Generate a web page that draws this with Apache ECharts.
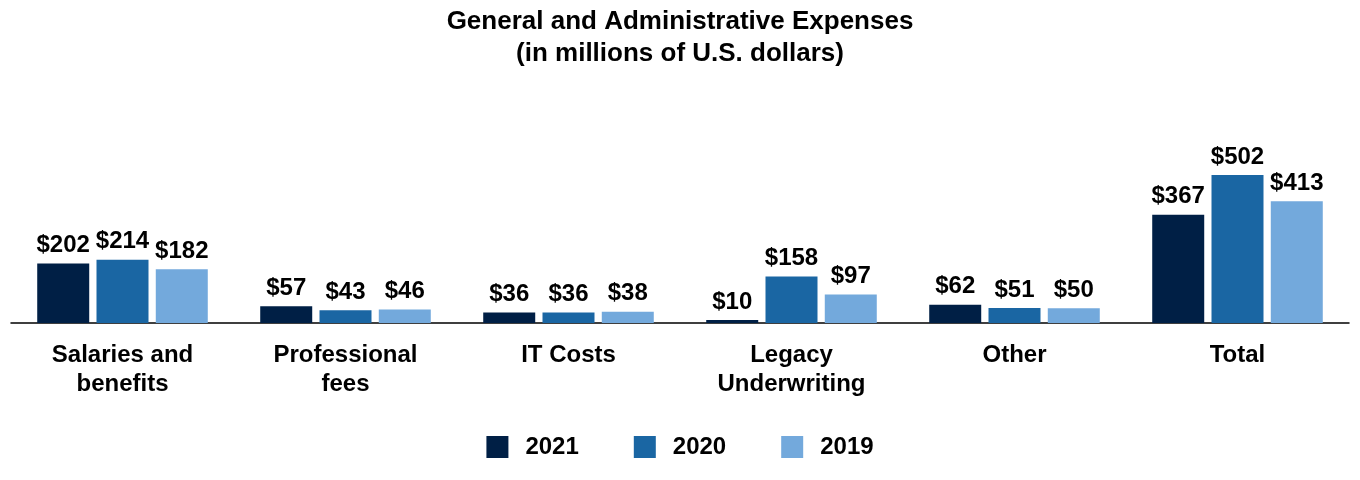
<!DOCTYPE html>
<html><head><meta charset="utf-8">
<script src="https://cdn.jsdelivr.net/npm/echarts@6/dist/echarts.min.js"></script>
<style>html,body{margin:0;padding:0;background:#fff}#c{width:1360px;height:480px}</style>
</head><body><div id="c"></div>
<script>
var categories = ['Salaries and\nbenefits', 'Professional\nfees', 'IT Costs', 'Legacy\nUnderwriting', 'Other', 'Total'];
var years = ['2021', '2020', '2019'];
var v2021 = [202, 57, 36, 10, 62, 367];
var v2020 = [214, 43, 36, 158, 51, 502];
var v2019 = [182, 46, 38, 97, 50, 413];
var colors = ['#001f45', '#1a66a3', '#73a9dc'];
var FONT = '"Liberation Sans", Arial, sans-serif';
var chart = echarts.init(document.getElementById('c'));
function mk(name, data, color) {
  return {
    name: name, type: 'bar', data: data, barWidth: 52, barGap: '14%',
    itemStyle: { color: color },
    label: { show: true, position: 'top', distance: 6, formatter: function (p) { return '$' + p.value; },
      color: '#000', fontWeight: 'bold', fontSize: 24, fontFamily: FONT }
  };
}
chart.setOption({
  animation: false,
  textStyle: { fontFamily: FONT },
  title: { text: 'General and Administrative Expenses\n(in millions of U.S. dollars)', left: 'center', top: 1,
    textStyle: { fontSize: 26, fontWeight: 'bold', color: '#000', fontFamily: FONT, lineHeight: 32 } },
  legend: { data: years, top: 430, left: 'center', icon: 'rect', itemWidth: 22, itemHeight: 22, itemGap: 55,
    textStyle: { fontSize: 24, fontWeight: 'bold', color: '#000', fontFamily: FONT, padding: [0, 0, 0, 12] } },
  grid: { left: 11, right: 11, top: 146, bottom: 157, containLabel: false },
  xAxis: { type: 'category', data: categories,
    axisLine: { lineStyle: { color: '#000', width: 1.5 } }, axisTick: { show: false },
    axisLabel: { color: '#000', fontWeight: 'bold', fontSize: 24, fontFamily: FONT, margin: 18, lineHeight: 29, interval: 0 } },
  yAxis: { type: 'value', min: 0, max: 600, show: false, splitLine: { show: false } },
  series: [mk('2021', v2021, colors[0]), mk('2020', v2020, colors[1]), mk('2019', v2019, colors[2])]
});
</script></body></html>
